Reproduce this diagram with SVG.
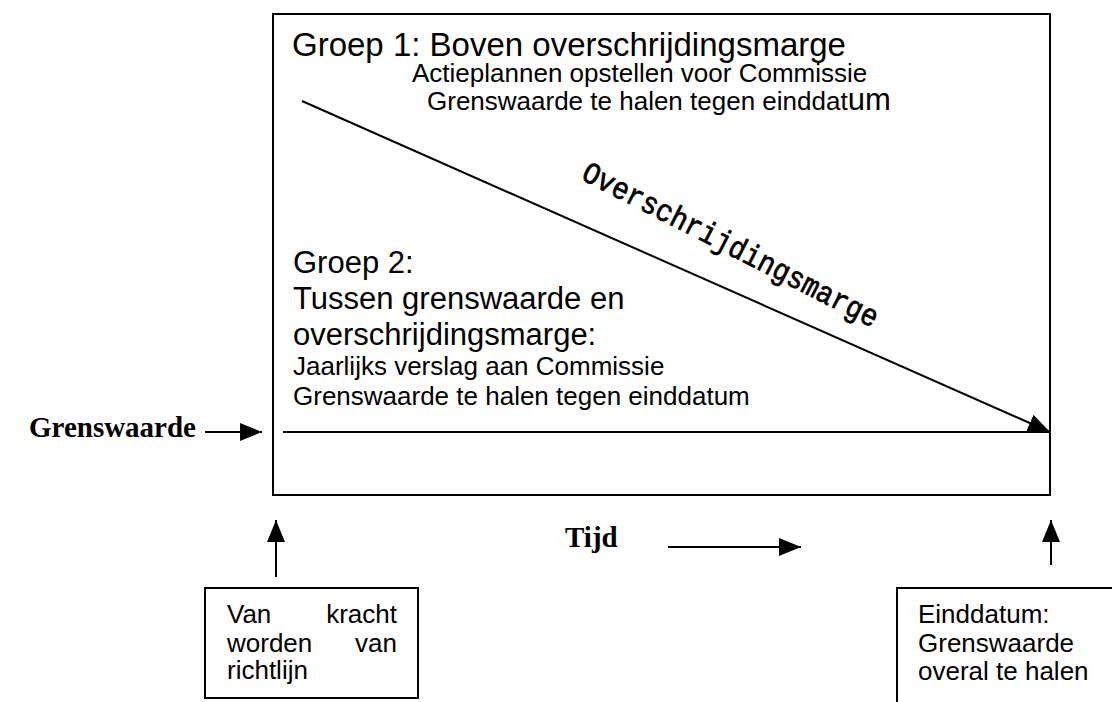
<svg xmlns="http://www.w3.org/2000/svg" width="1112" height="702" viewBox="0 0 1112 702">
<style>
.ln{stroke:#000;stroke-width:2;fill:none}
.big{font-family:"Liberation Sans",Arial,sans-serif;font-size:31px;fill:#000}
.hd{font-family:"Liberation Sans",Arial,sans-serif;font-size:33px;fill:#000}
.sm{font-family:"Liberation Sans",Arial,sans-serif;font-size:26px;fill:#000}
.tb{font-family:"Liberation Serif","Times New Roman",serif;font-weight:bold;font-size:29px;fill:#000}
.mono{font-family:"Liberation Mono","Courier New",monospace;font-size:31px;fill:#000;stroke:#000;stroke-width:0.7}
</style>
<defs>
<marker id="ah" markerUnits="userSpaceOnUse" markerWidth="22" markerHeight="18" refX="22" refY="9" orient="auto">
<path d="M0,0 L22,9 L0,18 z" fill="#000"/>
</marker>
</defs>
<g id="mainbox">
<rect x="273" y="14" width="777" height="481" class="ln"/>
<text class="hd" x="292" y="56">Groep 1: Boven overschrijdingsmarge</text>
<text class="sm" x="412" y="82">Actieplannen opstellen voor Commissie</text>
<text class="sm" x="427" y="110">Grenswaarde te halen tegen einddat<tspan font-size="31">um</tspan></text>
<text class="big" x="293" y="273">Groep 2:</text>
<text class="big" x="293" y="309">Tussen grenswaarde en</text>
<text class="big" x="293" y="345">overschrijdingsmarge:</text>
<text class="sm" x="293" y="375">Jaarlijks verslag aan Commissie</text>
<text class="sm" x="293" y="405">Grenswaarde te halen tegen einddatum</text>
<text class="mono" transform="translate(580,179) rotate(27)" textLength="328" lengthAdjust="spacingAndGlyphs">Overschrijdingsmarge</text>
</g>
<g id="label-grenswaarde">
<text class="tb" x="196" y="437" text-anchor="end">Grenswaarde</text>
</g>
<g id="label-tijd">
<text class="tb" x="565" y="547">Tijd</text>
</g>
<g id="box-start">
<rect x="205" y="588" width="213" height="110" class="ln"/>
<text class="sm" x="227" y="623">Van</text>
<text class="sm" x="397" y="623" text-anchor="end">kracht</text>
<text class="sm" x="227" y="652">worden</text>
<text class="sm" x="397" y="652" text-anchor="end">van</text>
<text class="sm" x="227" y="679">richtlijn</text>
</g>
<g id="box-end">
<rect x="897" y="588" width="240" height="140" class="ln"/>
<text class="sm" x="918" y="623">Einddatum:</text>
<text class="sm" x="918" y="652">Grenswaarde</text>
<text class="sm" x="918" y="680">overal te halen</text>
</g>
<g id="connectors">
<line x1="302" y1="101" x2="1050" y2="432" class="ln" marker-end="url(#ah)"/>
<line x1="283" y1="432" x2="1050" y2="432" class="ln"/>
<line x1="205" y1="432" x2="262" y2="432" class="ln" marker-end="url(#ah)"/>
<line x1="668" y1="547" x2="801" y2="547" class="ln" marker-end="url(#ah)"/>
<line x1="276" y1="577" x2="276" y2="520" class="ln" marker-end="url(#ah)"/>
<line x1="1051" y1="565" x2="1051" y2="520" class="ln" marker-end="url(#ah)"/>
</g>
</svg>
